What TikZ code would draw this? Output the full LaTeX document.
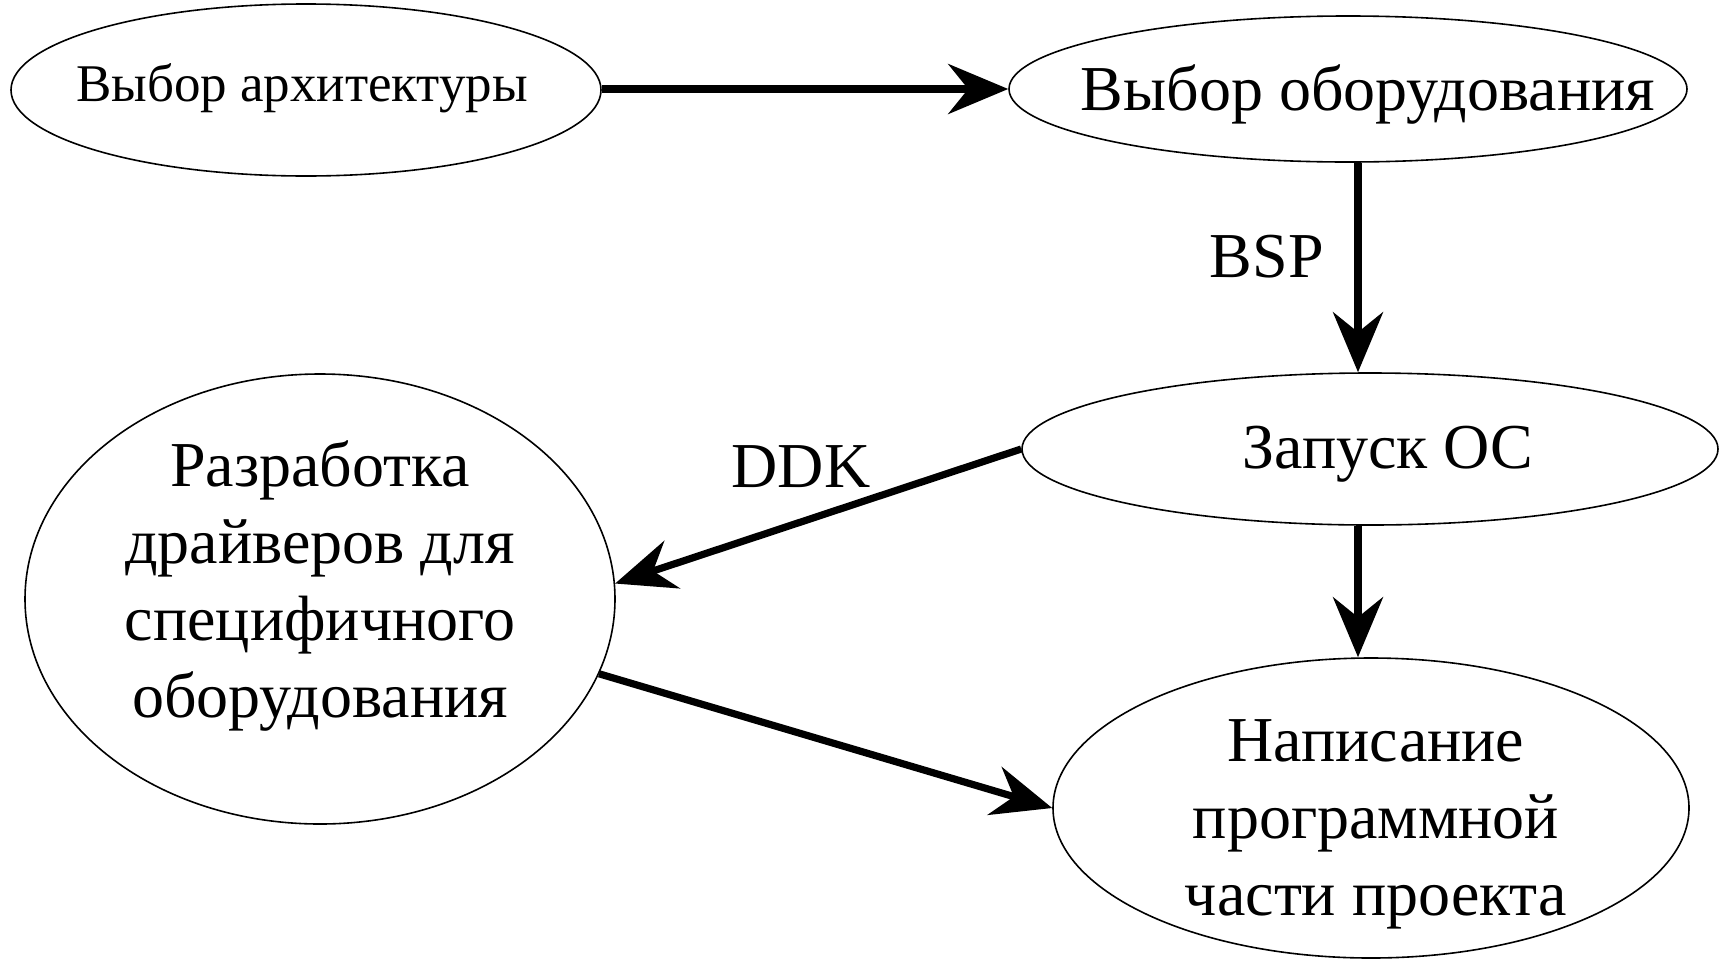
\documentclass[tikz,border=0pt]{standalone}
\usepackage{fontspec}
\setmainfont{Liberation Serif}
\usetikzlibrary{shapes.geometric,arrows.meta}
\begin{document}
\begin{tikzpicture}[x=0.5pt,y=-0.5pt,
  oval/.style={draw,ellipse,line width=0.8pt,inner sep=0pt},
  txt/.style={align=center,inner sep=0pt,font=\fontsize{32}{38.5}\selectfont},
  arr/.style={line width=3.6pt,-{Stealth[length=30pt,width=25pt,inset=10pt]}},
  lbl/.style={font=\fontsize{32}{38.5}\selectfont}]
\useasboundingbox (0,0) rectangle (1723,959);
\node[oval,minimum width=295pt,minimum height=86pt] (e1) at (306,90) {};
\node[txt,font=\fontsize{26.5}{30}\selectfont] (e1t) at (302,88) {Выбор архитектуры};
\node[oval,minimum width=339pt,minimum height=73pt] (e2) at (1348,89) {};
\node[txt] (e2t) at (1368,94) {Выбор оборудования};
\node[oval,minimum width=348pt,minimum height=76pt] (e3) at (1370,449) {};
\node[txt] (e3t) at (1388,454) {Запуск ОС};
\node[oval,minimum width=295pt,minimum height=225pt] (e4) at (320,599) {};
\node[txt] (e4t) at (320,586) {Разработка\\драйверов для\\специфичного\\оборудования};
\node[oval,minimum width=318pt,minimum height=150pt] (e5) at (1371,808) {};
\node[txt] (e5t) at (1376,824) {Написание\\программной\\части проекта};
\coordinate (colA) at (1358,0);
\draw[arr] (e1.east |- e2.west) -- (e2.west);
\draw[arr] (e2.south -| colA) -- node[lbl,left=12pt,pos=0.45] (bsp) {BSP} (e3.north -| colA);
\draw[arr] (e3.west) -- (e4.3);
\node[lbl] (ddk) at (801,467) {DDK};
\draw[arr] (e3.south -| colA) -- (e5.north -| colA);
\draw[arr] (e4.-15) -- (e5.west);
\end{tikzpicture}
\end{document}
